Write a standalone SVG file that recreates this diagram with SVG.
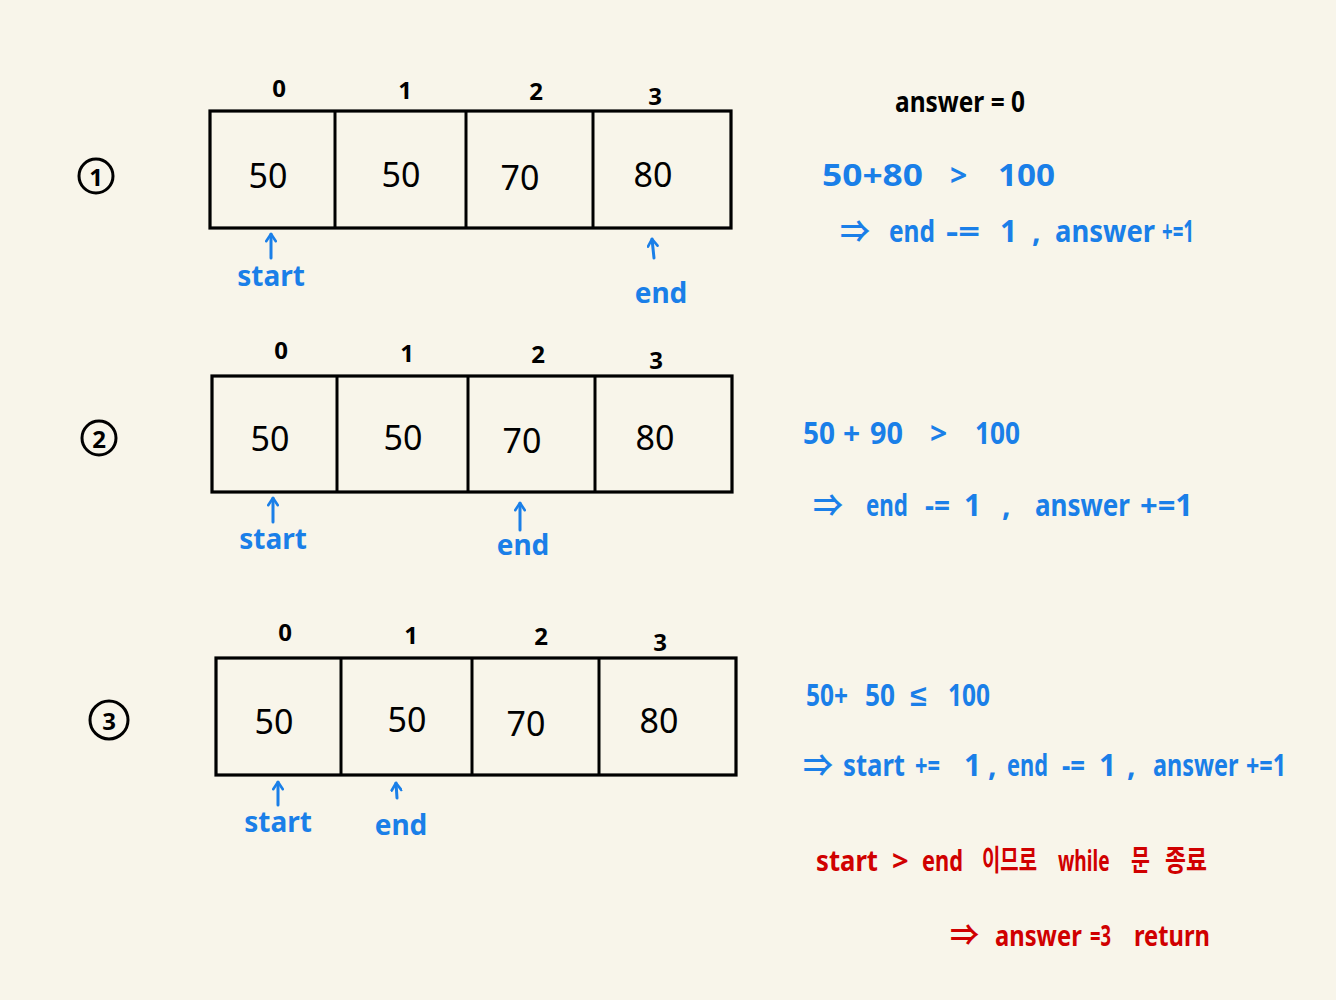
<svg xmlns="http://www.w3.org/2000/svg" width="1336" height="1000" viewBox="0 0 1336 1000">
<defs>
<style>
.bg{fill:#f8f5ea}
.box{fill:none;stroke:#000;stroke-width:3.2}
.div{stroke:#000;stroke-width:3}
.val{font-family:"Noto Sans","Liberation Sans",sans-serif;font-size:34px;fill:#000;text-anchor:middle;dominant-baseline:central}
.idx{font-family:"Noto Sans","Liberation Sans",sans-serif;font-weight:bold;font-size:24px;fill:#000;text-anchor:middle}
.circ{fill:none;stroke:#000;stroke-width:3}
.cnum{font-family:"Noto Sans","Liberation Sans",sans-serif;font-weight:bold;font-size:24px;fill:#000;text-anchor:middle;dominant-baseline:central}
.lbl{font-family:"Noto Sans","Liberation Sans",sans-serif;font-weight:bold;font-size:28px;fill:#1a7fe8;text-anchor:middle}
.blue{font-family:"Noto Sans","Liberation Sans","Noto Sans CJK KR",sans-serif;font-weight:bold;font-size:30px;fill:#1a7fe8}
.red{font-family:"Noto Sans","Liberation Sans","Noto Sans CJK KR",sans-serif;font-weight:bold;font-size:29px;fill:#d00000}
.blk{font-family:"Noto Sans","Liberation Sans",sans-serif;font-weight:bold;font-size:28px;fill:#000}
.ptr{stroke:#1a7fe8;stroke-width:3;fill:none;stroke-linecap:round}
</style>
<marker id="head" viewBox="0 0 10 10" refX="9" refY="5" markerWidth="12" markerHeight="12" markerUnits="userSpaceOnUse" orient="auto">
<path d="M3,1 L9,5 L3,9" fill="none" stroke="#1a7fe8" stroke-width="2.2" stroke-linecap="round" stroke-linejoin="round"/>
</marker>
</defs>
<rect class="bg" x="0" y="0" width="1336" height="1000"/>

<g id="step1">
<circle class="circ" cx="96" cy="176" r="17"/>
<text class="cnum" x="96" y="176">1</text>
<text class="idx" x="279" y="97">0</text>
<text class="idx" x="405" y="99">1</text>
<text class="idx" x="536" y="100">2</text>
<text class="idx" x="655" y="105">3</text>
<rect class="box" x="210" y="111" width="521" height="117"/>
<line class="div" x1="335" y1="111" x2="335" y2="228"/>
<line class="div" x1="466" y1="111" x2="466" y2="228"/>
<line class="div" x1="593" y1="111" x2="593" y2="228"/>
<text class="val" x="268" y="175">50</text>
<text class="val" x="401" y="174">50</text>
<text class="val" x="520" y="177">70</text>
<text class="val" x="653" y="174">80</text>
<text class="lbl" x="271" y="286">start</text>
<text class="lbl" x="661" y="303">end</text>
</g>

<g id="step2">
<circle class="circ" cx="99" cy="438" r="17"/>
<text class="cnum" x="99" y="438">2</text>
<text class="idx" x="281" y="359">0</text>
<text class="idx" x="407" y="362">1</text>
<text class="idx" x="538" y="363">2</text>
<text class="idx" x="656" y="369">3</text>
<rect class="box" x="212" y="376" width="520" height="116"/>
<line class="div" x1="337" y1="376" x2="337" y2="492"/>
<line class="div" x1="468" y1="376" x2="468" y2="492"/>
<line class="div" x1="595" y1="376" x2="595" y2="492"/>
<text class="val" x="270" y="438">50</text>
<text class="val" x="403" y="437">50</text>
<text class="val" x="522" y="440">70</text>
<text class="val" x="655" y="437">80</text>
<text class="lbl" x="273" y="549">start</text>
<text class="lbl" x="523" y="555">end</text>
</g>

<g id="step3">
<circle class="circ" cx="109" cy="720" r="19"/>
<text class="cnum" x="109" y="720">3</text>
<text class="idx" x="285" y="641">0</text>
<text class="idx" x="411" y="644">1</text>
<text class="idx" x="541" y="645">2</text>
<text class="idx" x="660" y="651">3</text>
<rect class="box" x="216" y="658" width="520" height="117"/>
<line class="div" x1="341" y1="658" x2="341" y2="775"/>
<line class="div" x1="472" y1="658" x2="472" y2="775"/>
<line class="div" x1="599" y1="658" x2="599" y2="775"/>
<text class="val" x="274" y="721">50</text>
<text class="val" x="407" y="719">50</text>
<text class="val" x="526" y="723">70</text>
<text class="val" x="659" y="720">80</text>
<text class="lbl" x="278" y="832">start</text>
<text class="lbl" x="401" y="835">end</text>
</g>

<g id="connectors">
<line class="ptr" x1="271" y1="258" x2="271" y2="234" marker-end="url(#head)"/>
<line class="ptr" x1="654" y1="258" x2="652" y2="239" marker-end="url(#head)"/>
<line class="ptr" x1="273" y1="522" x2="273" y2="498" marker-end="url(#head)"/>
<line class="ptr" x1="520" y1="530" x2="520" y2="503" marker-end="url(#head)"/>
<line class="ptr" x1="278" y1="805" x2="278" y2="782" marker-end="url(#head)"/>
<line class="ptr" x1="397" y1="798" x2="396" y2="783" marker-end="url(#head)"/>
</g>

<g id="notes">
<text class="blk" x="895" y="112" textLength="130" lengthAdjust="spacingAndGlyphs">answer = 0</text>

<text class="blue" x="822" y="186" textLength="101" lengthAdjust="spacingAndGlyphs">50+80</text>
<text class="blue" x="950" y="186">&gt;</text>
<text class="blue" x="998" y="186" textLength="57" lengthAdjust="spacingAndGlyphs">100</text>

<text class="blue" x="840" y="242">⇒</text>
<text class="blue" x="889" y="242" textLength="46" lengthAdjust="spacingAndGlyphs">end</text>
<text class="blue" x="946" y="242" textLength="34" lengthAdjust="spacingAndGlyphs">-=</text>
<text class="blue" x="1000" y="242">1</text>
<text class="blue" x="1032" y="242">,</text>
<text class="blue" x="1055" y="242" textLength="100" lengthAdjust="spacingAndGlyphs">answer</text>
<text class="blue" x="1162" y="242" textLength="32" lengthAdjust="spacingAndGlyphs">+=1</text>

<text class="blue" x="803" y="444" textLength="32" lengthAdjust="spacingAndGlyphs">50</text>
<text class="blue" x="843" y="444">+</text>
<text class="blue" x="870" y="444" textLength="33" lengthAdjust="spacingAndGlyphs">90</text>
<text class="blue" x="930" y="444">&gt;</text>
<text class="blue" x="975" y="444" textLength="45" lengthAdjust="spacingAndGlyphs">100</text>

<text class="blue" x="813" y="516">⇒</text>
<text class="blue" x="866" y="516" textLength="42" lengthAdjust="spacingAndGlyphs">end</text>
<text class="blue" x="925" y="516" textLength="25" lengthAdjust="spacingAndGlyphs">-=</text>
<text class="blue" x="964" y="516">1</text>
<text class="blue" x="1002" y="516">,</text>
<text class="blue" x="1035" y="516" textLength="95" lengthAdjust="spacingAndGlyphs">answer</text>
<text class="blue" x="1140" y="516" textLength="53" lengthAdjust="spacingAndGlyphs">+=1</text>

<text class="blue" x="806" y="706" textLength="42" lengthAdjust="spacingAndGlyphs">50+</text>
<text class="blue" x="865" y="706" textLength="30" lengthAdjust="spacingAndGlyphs">50</text>
<text class="blue" x="910" y="706">≤</text>
<text class="blue" x="948" y="706" textLength="42" lengthAdjust="spacingAndGlyphs">100</text>

<text class="blue" x="803" y="776">⇒</text>
<text class="blue" x="843" y="776" textLength="62" lengthAdjust="spacingAndGlyphs">start</text>
<text class="blue" x="915" y="776" textLength="25" lengthAdjust="spacingAndGlyphs">+=</text>
<text class="blue" x="964" y="776">1</text>
<text class="blue" x="988" y="776">,</text>
<text class="blue" x="1007" y="776" textLength="41" lengthAdjust="spacingAndGlyphs">end</text>
<text class="blue" x="1062" y="776" textLength="23" lengthAdjust="spacingAndGlyphs">-=</text>
<text class="blue" x="1099" y="776">1</text>
<text class="blue" x="1127" y="776">,</text>
<text class="blue" transform="translate(1153 776) scale(0.78 1)">answer</text>
<text class="blue" x="1246" y="776" textLength="40" lengthAdjust="spacingAndGlyphs">+=1</text>

<text class="red" x="816" y="871" textLength="62" lengthAdjust="spacingAndGlyphs">start</text>
<text class="red" x="892" y="871">&gt;</text>
<text class="red" x="922" y="871" textLength="41" lengthAdjust="spacingAndGlyphs">end</text>
<text class="red" x="982" y="871" textLength="55" lengthAdjust="spacingAndGlyphs">이므로</text>
<text class="red" transform="translate(1058 871) scale(0.66 1)">while</text>
<text class="red" x="1131" y="871" textLength="19" lengthAdjust="spacingAndGlyphs">문</text>
<text class="red" x="1165" y="871" textLength="42" lengthAdjust="spacingAndGlyphs">종료</text>

<text class="red" x="950" y="946">⇒</text>
<text class="red" transform="translate(995 946) scale(0.82 1)">answer</text>
<text class="red" x="1090" y="946" textLength="21" lengthAdjust="spacingAndGlyphs">=3</text>
<text class="red" x="1134" y="946" textLength="76" lengthAdjust="spacingAndGlyphs">return</text>
</g>
</svg>
